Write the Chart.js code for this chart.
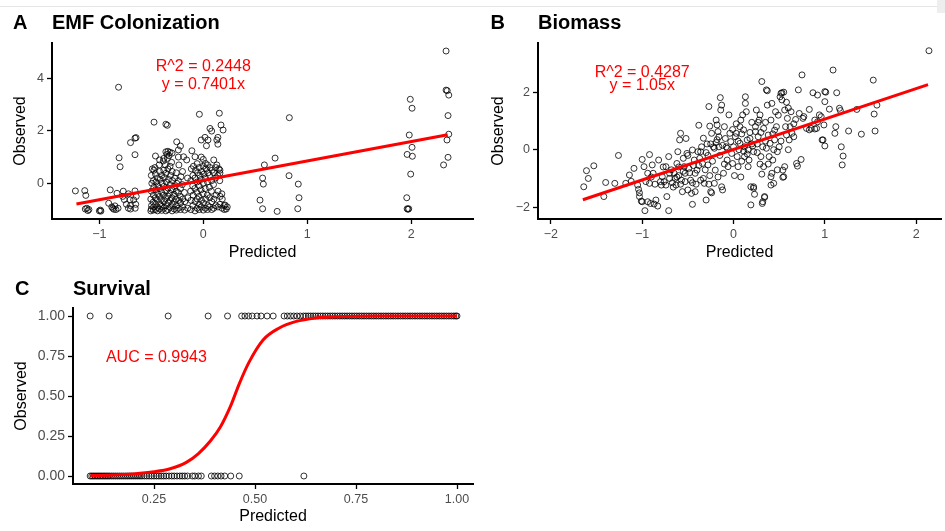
<!DOCTYPE html>
<html>
<head>
<meta charset="utf-8">
<script src="https://cdn.jsdelivr.net/npm/chart.js@4.4.0/dist/chart.umd.min.js"></script>
<style>
  body { margin: 0; background: #fff; }
  #page { position: relative; width: 945px; height: 531px; overflow: hidden; background: #fff; }
  #topLine { position: absolute; left: 0; top: 6px; width: 945px; height: 1px; background: #e6e6e6; }
  #corner { position: absolute; left: 937px; top: 0; width: 8px; height: 13px; background: #eeeeee; }
  canvas { position: absolute; }
  #chartA { left: 0; top: 0; }
  #chartB { left: 470px; top: 0; }
  #chartC { left: 0; top: 268px; }
</style>
</head>
<body>
<div id="page">
  <div id="topLine"></div>
  <div id="corner"></div>
  <canvas id="chartA" width="480" height="268"></canvas>
  <canvas id="chartB" width="475" height="268"></canvas>
  <canvas id="chartC" width="480" height="263"></canvas>
</div>
<script>
// ---- data ----

// A: EMF colonization, [predicted, observed]
const emfPoints = [
  [-1.23,-0.29],[-1.14,-0.28],[-1.13,-0.46],[-1.12,-0.95],[-1.11,-1.04],[-1.135,-0.98],[-1.10,-1.0],
  [-1.0,-1.05],[-0.985,-1.06],[-0.99,-1.02],
  [-0.895,-0.25],[-0.91,-0.76],[-0.87,-0.95],[-0.85,-0.86],[-0.82,-0.95],[-0.83,-0.38],[-0.86,-0.99],[-0.84,-1.0],[-0.88,-0.9],
  [-0.80,0.63],[-0.81,0.97],[-0.815,3.66],
  [-0.77,-0.30],[-0.76,-0.62],[-0.775,-0.5],[-0.72,-0.95],[-0.705,-0.63],[-0.74,-0.8],
  [-0.70,1.55],[-0.657,1.72],[-0.647,1.74],[-0.657,1.09],
  [-0.657,-0.29],[-0.67,-0.63],[-0.655,-0.95],[-0.645,-0.5],[-0.65,-0.8],[-0.70,-0.85],[-0.70,-0.98],[-0.72,-0.4],
  [-0.474,2.33],[-0.36,2.25],[-0.346,2.21],[-0.038,2.63],[0.154,2.67],[0.17,2.22],[0.19,2.03],[0.064,2.09],[0.08,1.99],
  [-0.02,1.65],[0.016,1.75],[0.13,1.65],[0.14,1.75],[0.14,1.49],[0.045,1.65],[0.03,1.43],[-0.256,1.58],[-0.22,1.42],
  [-0.46,1.04],[-0.42,0.89],[-0.36,1.2],[-0.34,1.22],[-0.32,1.18],[-0.35,1.1],[-0.33,1.05],[-0.38,0.95],[-0.30,1.15],
  [-0.24,1.27],[-0.19,1.01],[-0.16,0.89],[-0.11,1.24],[-0.08,1.01],[0.0,0.91],[0.02,0.76],[0.1,0.89],[0.13,0.7],[0.15,0.55],[0.16,0.39],
  [-0.505,-1.05],[-0.50,-0.98],[-0.498,-0.85],[-0.505,-0.6],[-0.50,-0.3],[-0.495,0.0],[-0.50,0.3],[-0.49,0.55],
  [-0.48,-1.02],[-0.478,-0.9],[-0.482,-0.72],[-0.48,-0.45],[-0.476,-0.15],[-0.48,0.1],[-0.475,0.5],
  [-0.46,-1.0],[-0.458,-0.8],[-0.462,-0.55],[-0.46,-0.25],[-0.455,0.05],[-0.46,0.35],[-0.465,0.6],
  [-0.44,-1.05],[-0.438,-0.92],[-0.442,-0.65],[-0.44,-0.4],[-0.436,-0.1],[-0.44,0.2],
  [-0.42,-0.98],[-0.418,-0.78],[-0.422,-0.5],[-0.42,-0.2],[-0.415,0.15],[-0.42,0.45],[-0.425,0.7],
  [-0.40,-1.03],[-0.398,-0.88],[-0.402,-0.62],[-0.40,-0.35],[-0.396,0.0],[-0.40,0.3],
  [-0.38,-0.95],[-0.378,-0.7],[-0.382,-0.45],[-0.38,-0.12],[-0.375,0.22],[-0.38,0.5],[-0.385,0.85],
  [-0.36,-1.05],[-0.358,-0.85],[-0.362,-0.58],[-0.36,-0.3],[-0.356,0.05],[-0.36,0.38],[-0.365,0.7],
  [-0.34,-1.0],[-0.338,-0.75],[-0.342,-0.48],[-0.34,-0.18],[-0.335,0.15],[-0.34,0.55],[-0.345,0.95],
  [-0.32,-0.92],[-0.318,-0.65],[-0.322,-0.38],[-0.32,-0.05],[-0.315,0.3],[-0.32,0.65],
  [-0.30,-1.05],[-0.298,-0.8],[-0.302,-0.55],[-0.30,-0.25],[-0.296,0.1],[-0.30,0.45],[-0.305,0.8],
  [-0.28,-0.98],[-0.278,-0.7],[-0.282,-0.42],[-0.28,-0.12],[-0.275,0.2],
  [-0.26,-1.02],[-0.258,-0.85],[-0.262,-0.6],[-0.26,-0.3],[-0.256,0.0],[-0.26,0.4],
  [-0.24,-0.95],[-0.238,-0.65],[-0.242,-0.35],[-0.24,0.1],[-0.235,0.7],[-0.24,1.0],
  [-0.22,-1.0],[-0.218,-0.75],[-0.222,-0.5],[-0.22,-0.2],[-0.215,0.25],
  [-0.20,-0.9],[-0.198,-0.6],[-0.202,-0.05],[-0.20,0.45],
  [-0.18,-1.02],[-0.178,-0.7],[-0.182,-0.35],[-0.15,-0.95],[-0.148,-0.55],[-0.152,0.2],
  [-0.12,-1.0],[-0.118,-0.65],[-0.122,-0.3],[-0.12,0.1],[-0.115,0.55],
  [-0.10,-0.85],[-0.098,-0.45],[-0.102,-0.1],[-0.10,0.3],[-0.095,0.65],
  [-0.08,-1.05],[-0.078,-0.7],[-0.082,-0.2],[-0.08,0.2],[-0.075,0.5],
  [-0.06,-0.95],[-0.058,-0.6],[-0.062,-0.35],[-0.06,0.05],[-0.055,0.4],[-0.06,0.75],
  [-0.04,-1.0],[-0.038,-0.8],[-0.042,-0.5],[-0.04,-0.1],[-0.035,0.3],[-0.04,0.6],
  [-0.02,-0.9],[-0.018,-0.65],[-0.022,-0.25],[-0.02,0.15],[-0.015,0.45],[-0.02,1.0],
  [0.0,-1.02],[0.002,-0.75],[-0.002,-0.4],[0.0,0.0],[0.005,0.35],[0.0,0.65],
  [0.02,-0.95],[0.022,-0.6],[0.018,-0.2],[0.02,0.2],[0.025,0.55],
  [0.04,-1.0],[0.042,-0.85],[0.038,-0.45],[0.04,0.05],[0.045,0.4],[0.04,0.7],
  [0.06,-0.9],[0.062,-0.55],[0.058,-0.15],[0.06,0.3],[0.065,0.6],
  [0.08,-1.0],[0.082,-0.7],[0.078,-0.3],[0.08,0.1],[0.085,0.5],
  [0.10,-0.95],[0.102,-0.6],[0.098,-0.05],[0.10,0.4],
  [0.12,-0.85],[0.122,-0.45],[0.118,0.2],[0.12,0.6],
  [0.14,-0.9],[0.142,-0.3],[0.138,0.3],[0.16,-0.8],[0.162,-0.5],[0.158,0.1],[0.16,0.5],
  [0.18,-0.95],[0.182,-0.6],[0.178,-0.4],[0.20,-0.85],[0.202,-1.0],[0.22,-0.98],[0.21,-0.83],[0.23,-0.9],
  [0.587,0.70],[0.69,0.96],[0.57,0.20],[0.577,-0.03],[0.545,-0.64],[0.57,-0.97],[0.71,-1.07],
  [0.827,2.50],[0.824,0.29],[0.913,-0.03],[0.92,-0.55],[0.908,-0.97],
  [1.99,3.20],[2.007,2.86],[1.98,1.84],[2.007,1.37],[1.96,1.10],[2.01,1.03],[1.994,0.35],
  [1.956,-0.55],[1.96,-0.97],[1.975,-0.97],[1.968,-0.99],
  [2.334,5.04],[2.334,3.55],[2.345,3.53],[2.36,3.36],[2.353,2.58],[2.36,1.87],[2.343,1.65],[2.353,0.99],[2.31,0.70]
];
const emfFit = [[-1.22,-0.79],[2.35,1.85]];
const emfXTicks = [-1, 0, 1, 2];
const emfYTicks = [0, 2, 4];

// B: biomass, [predicted, observed]
const bioPoints = [
  [-1.64,-1.29],[-1.61,-0.73],[-1.59,-1.0],[-1.53,-0.56],[-1.42,-1.63],[-1.40,-1.14],
  [-1.30,-1.17],[-1.26,-0.20],[-1.18,-1.17],[-1.14,-0.88],[-1.12,-1.1],
  [-1.09,-0.65],[-1.05,-1.23],[-1.04,-1.38],[-1.03,-1.5],[-1.03,-1.63],[-1.01,-1.79],[-1.0,-1.81],
  [-1.0,-0.34],[-0.98,-0.59],[-0.96,-1.11],[-0.94,-0.82],[-0.97,-2.12],[-0.94,-1.81],[-0.92,-1.17],[-0.92,-0.17],[-0.91,-1.87],
  [-0.89,-0.53],[-0.88,-0.82],[-0.87,-1.89],[-0.85,-1.75],[-0.83,-1.96],[-0.82,-0.36],[-0.80,-1.11],[-0.79,-1.23],
  [-0.78,-0.94],[-0.76,-1.11],[-0.74,-1.23],[-0.73,-1.63],[-0.71,-2.12],[-0.71,-0.24],[-0.70,-0.82],[-0.74,-0.59],
  [-0.67,-1.15],[-0.65,-0.82],[-0.63,-1.23],[-0.62,-0.48],[-0.61,-0.07],[-0.59,0.34],[-0.58,0.57],[-0.57,-1.06],
  [-0.56,-1.46],[-0.54,-0.59],[-0.53,-0.82],[-0.53,-1.11],[-0.52,0.39],[-0.51,-0.13],[-0.5,-1.4],[-0.49,-0.65],
  [-0.68,-0.7],[-0.64,-1.0],[-0.6,-0.9],[-0.58,-1.2],[-0.55,-0.3],[-0.6,-0.6],[-0.66,-1.3],[-0.7,-1.0],
  [-0.47,-1.06],[-0.46,-1.52],[-0.45,-1.9],[-0.45,-0.01],[-0.43,-0.36],[-0.42,-0.82],[-0.42,-1.46],[-0.40,-0.71],
  [-0.39,-0.07],[-0.38,0.85],[-0.36,-0.07],[-0.36,-1.06],[-0.34,-0.48],[-0.33,-1.0],[-0.32,-1.17],[-0.30,-1.75],
  [-0.29,0.2],[-0.28,-0.53],[-0.27,1.50],[-0.26,0.82],[-0.25,-1.46],[-0.25,0.2],[-0.24,-1.5],
  [-0.48,-0.8],[-0.44,-0.55],[-0.41,-1.2],[-0.37,-0.3],[-0.35,0.1],[-0.31,-0.7],[-0.28,-0.2],[-0.33,0.4],
  [-0.24,0.57],[-0.22,0.10],[-0.21,-1.17],[-0.20,-0.71],[-0.19,1.03],[-0.18,0.86],[-0.17,0.63],[-0.16,0.10],
  [-0.16,0.45],[-0.145,1.81],[-0.14,1.38],[-0.13,1.55],[-0.13,-1.29],[-0.12,-1.4],[-0.11,-0.82],[-0.10,0.8],
  [-0.09,0.39],[-0.08,0.1],[-0.07,-0.36],[-0.06,-0.59],[-0.05,1.21],[-0.04,0.57],
  [-0.23,-0.4],[-0.19,0.25],[-0.15,-0.2],[-0.12,0.15],[-0.21,0.05],[-0.1,-0.5],[-0.17,-0.95],[-0.26,-0.9],
  [-0.03,0.28],[-0.02,-0.13],[-0.01,-0.48],[0.0,0.1],[0.02,0.45],[0.03,0.57],[0.04,-0.24],[0.05,-0.59],
  [0.07,0.22],[0.07,0.80],[0.08,1.03],[0.10,1.21],[0.11,0.69],[0.12,-0.24],[0.13,1.84],[0.13,1.61],
  [0.14,1.32],[0.15,0.34],[0.16,-0.01],[0.16,-0.59],[0.17,-0.36],[0.18,0.39],[0.19,-1.29],[0.19,-1.92],
  [0.21,0.13],[0.22,-0.07],[0.22,-1.29],[0.23,-1.55],[0.24,0.80],[0.24,0.63],
  [0.01,-0.9],[0.06,0.0],[0.09,0.55],[0.12,0.1],[0.18,0.6],[0.2,0.2],[0.03,0.9],[-0.01,0.7],[0.15,-0.15],[0.09,-0.4],
  [0.25,1.38],[0.27,0.45],[0.28,1.03],[0.29,1.21],[0.30,-0.24],[0.31,2.37],[0.32,-1.81],[0.33,-0.59],
  [0.33,0.74],[0.34,-1.63],[0.36,0.05],[0.36,2.08],[0.37,1.55],[0.38,0.51],[0.39,-0.24],[0.40,0.22],
  [0.41,1.03],[0.42,1.61],[0.42,-0.82],[0.43,-0.36],[0.44,-1.17],[0.45,0.68],[0.45,0.34],[0.46,1.32],
  [0.47,0.80],[0.48,-0.07],[0.50,0.10],[0.41,-1.23],[0.41,-0.94],[0.34,-1.66],[0.315,-1.87],[0.22,-1.34],
  [0.26,0.2],[0.3,0.6],[0.35,0.3],[0.29,-0.5],[0.38,-0.5],[0.44,0.0],[0.27,0.95],[0.32,0.1],
  [0.51,1.84],[0.52,1.96],[0.53,1.73],[0.53,1.98],[0.54,-0.71],[0.55,-0.94],[0.56,1.38],[0.57,0.80],
  [0.58,0.51],[0.59,1.09],[0.61,0.34],[0.62,0.80],[0.63,1.32],[0.64,0.57],[0.66,0.45],[0.69,-0.48],
  [0.71,2.08],[0.72,1.26],[0.74,-0.34],[0.75,2.6],[0.77,1.15],[0.56,-0.59],[0.70,-0.57],[0.54,-0.96],
  [0.55,2.0],[0.58,1.65],[0.37,2.05],[0.52,0.3],[0.6,0.0],[0.66,0.9],
  [0.80,0.74],[0.83,1.4],[0.85,0.74],[0.87,1.98],[0.89,1.03],[0.91,0.74],[0.92,1.9],[0.94,1.21],
  [0.97,0.34],[0.99,0.86],[1.0,1.67],[1.0,2.02],[1.0,0.13],[0.98,0.34],[0.83,0.69],[0.89,0.72],
  [0.92,0.97],[0.96,1.15],[0.76,1.09],[1.01,2.0],[1.05,1.41],
  [1.09,2.77],[1.11,0.57],[1.12,0.8],[1.13,1.98],[1.16,1.44],[1.18,0.10],[1.20,-0.22],[1.19,-0.53],
  [1.26,0.65],[1.35,1.4],[1.40,0.54],[1.53,2.42],[1.54,1.24],[1.55,0.65],[1.57,1.55],[1.17,1.36],
  [-0.86,-1.2],[-0.9,-0.95],[-0.77,-0.6],[-0.62,-0.95],[-0.55,-0.75],[-0.5,-0.2],[-0.45,-1.15],[-0.38,-0.55],
  [-0.3,-0.1],[-0.27,-1.2],[-0.18,0.35],[-0.07,0.05],[0.05,0.3],[0.11,-0.05],[0.2,0.95],[0.26,-0.1],
  [0.35,0.95],[0.43,0.55],[0.49,1.2],[0.6,1.45],[0.68,1.05],[0.48,-0.7],[0.31,-0.85],[0.08,-0.95],
  [2.14,3.44]
];
const bioFit = [[-1.65,-1.74],[2.13,2.26]];
const bioXTicks = [-2, -1, 0, 1, 2];
const bioYTicks = [-2, 0, 2];

// C: survival, predicted probability for dead (0) and alive (1)
const deadPredicted = [
  0.092,0.096,0.10,0.104,0.108,0.112,0.116,0.12,0.124,0.128,0.132,0.136,0.14,0.145,0.15,0.155,0.16,
  0.165,0.17,0.175,0.18,0.185,0.19,0.195,0.20,0.205,0.21,0.215,0.22,0.226,0.232,0.238,0.244,0.25,
  0.256,0.262,0.268,0.274,0.28,0.287,0.294,0.30,0.307,0.314,0.32,0.326,0.333,0.345,0.351,0.36,0.367,
  0.392,0.40,0.408,0.416,0.425,0.44,0.461,0.621
];
const alivePredicted = [
  0.092,0.139,0.285,0.384,0.432,0.467,0.475,0.484,0.493,0.505,0.515,0.53,0.545,0.572,0.58,0.588,
  0.596,0.604,0.612,0.62,0.626,0.632,0.638,0.644,0.65,0.656,0.662,0.668,0.674,0.68,0.686,0.692,
  0.698,0.704,0.71,0.716,0.722,0.728,0.734,0.74,0.746,0.752,0.758,0.764,0.77,0.776,0.782,0.788,
  0.794,0.80,0.806,0.812,0.818,0.824,0.83,0.836,0.842,0.848,0.854,0.86,0.866,0.872,0.878,0.884,
  0.89,0.896,0.902,0.908,0.914,0.92,0.926,0.932,0.938,0.944,0.95,0.956,0.962,0.968,0.974,0.98,
  0.986,0.992,0.997,1.0
];
const survFit = [
  [0.093,0.003],[0.15,0.006],[0.2,0.013],[0.25,0.026],[0.29,0.045],[0.33,0.085],[0.36,0.14],
  [0.39,0.22],[0.415,0.31],[0.44,0.44],[0.46,0.57],[0.485,0.71],[0.52,0.85],[0.56,0.925],
  [0.6,0.965],[0.65,0.988],[0.72,0.997],[0.8,1.0],[1.0,1.0]
];
const survXTicks = [0.25, 0.5, 0.75, 1.0];
const survYTicks = [0, 0.25, 0.5, 0.75, 1.0];

// ---- drawing ----
Chart.defaults.font.family = "'Liberation Sans', Arial, sans-serif";

const toXY = (pairs) => pairs.map((p) => ({ x: p[0], y: p[1] }));
const minus = (v) => String(v).replace("-", "\u2212");

// draws the panel letter, the bold title and the red notes
const panelText = {
    id: "panelText",
    afterDraw(chart, args, opts) {
        const ctx = chart.ctx;
        const xs = chart.scales.x;
        const ys = chart.scales.y;
        ctx.save();
        ctx.fillStyle = "#000";
        ctx.textAlign = "left";
        ctx.textBaseline = "alphabetic";
        ctx.font = "bold 20px 'Liberation Sans', Arial, sans-serif";
        ctx.fillText(opts.letter, opts.letterX, opts.titleY);
        ctx.fillText(opts.title, chart.chartArea.left, opts.titleY);
        ctx.fillStyle = "#ff0000";
        ctx.textAlign = "center";
        ctx.font = "16px 'Liberation Sans', Arial, sans-serif";
        opts.notes.forEach((n) => {
            ctx.fillText(n.text, xs.getPixelForValue(n.x), ys.getPixelForValue(n.y));
        });
        ctx.restore();
    },
};

function axis(min, max, ticks, fmt, size, title, titlePad, tickSize) {
    return {
        type: "linear",
        min: min,
        max: max,
        afterBuildTicks: (s) => { s.ticks = ticks.map((v) => ({ value: v })); },
        afterFit: (s) => {
            if (s.isHorizontal()) s.height = size; else s.width = size;
        },
        ticks: { font: { size: tickSize || 12.5 }, color: "#4d4d4d", padding: 3, callback: fmt },
        grid: { drawOnChartArea: false, tickLength: 5, tickColor: "#000", tickWidth: 1.3 },
        border: { color: "#000", width: 2 },
        title: { display: true, text: title, color: "#000", font: { size: 16 }, padding: titlePad },
    };
}

function scatterSet(points) {
    return {
        type: "scatter",
        data: points,
        pointRadius: 3,
        pointHoverRadius: 3,
        borderWidth: 1,
        borderColor: "rgba(0,0,0,0.8)",
        backgroundColor: "rgba(0,0,0,0)",
        order: 2,
    };
}

function lineSet(points, smooth) {
    return {
        type: "line",
        data: points,
        borderColor: "#ff0000",
        borderWidth: 3,
        pointRadius: 0,
        fill: false,
        cubicInterpolationMode: smooth ? "monotone" : "default",
        order: 1,
    };
}

function makePanel(id, p) {
    new Chart(document.getElementById(id), {
        type: "scatter",
        data: { datasets: p.datasets },
        options: {
            responsive: false,
            animation: false,
            devicePixelRatio: 1,
            layout: { padding: { top: p.top, right: p.right, left: 0, bottom: 0 } },
            plugins: {
                legend: { display: false },
                tooltip: { enabled: false },
                panelText: p.text,
            },
            scales: { x: p.x, y: p.y },
        },
        plugins: [panelText],
    });
}

makePanel("chartA", {
    top: 43, right: 7,
    datasets: [scatterSet(toXY(emfPoints)), lineSet(toXY(emfFit), false)],
    x: axis(-1.455, 2.593, emfXTicks, minus, 49, "Predicted", { top: 0, bottom: 6 }),
    y: axis(-1.36, 5.345, emfYTicks, minus, 52, "Observed", { top: 11, bottom: 0 }),
    text: {
        letter: "A", letterX: 13, titleY: 28.5, title: "EMF Colonization",
        notes: [{ text: "R^2 = 0.2448", x: 0, y: 4.29 }, { text: "y = 0.7401x", x: 0, y: 3.58 }],
    },
});

makePanel("chartB", {
    top: 43, right: 1,
    datasets: [scatterSet(toXY(bioPoints)), lineSet(toXY(bioFit), false)],
    x: axis(-2.141, 2.272, bioXTicks, minus, 49, "Predicted", { top: 0, bottom: 6 }),
    y: axis(-2.41, 3.71, bioYTicks, minus, 68, "Observed", { top: 18.5, bottom: 0 }),
    text: {
        letter: "B", letterX: 20.5, titleY: 28.5, title: "Biomass",
        notes: [{ text: "R^2 = 0.4287", x: -1.0, y: 2.54 }, { text: "y = 1.05x", x: -1.0, y: 2.09 }],
    },
});

makePanel("chartC", {
    top: 40, right: 7,
    datasets: [
        scatterSet(deadPredicted.map((v) => ({ x: v, y: 0 }))),
        scatterSet(alivePredicted.map((v) => ({ x: v, y: 1 }))),
        lineSet(toXY(survFit), true),
    ],
    x: axis(0.0495, 1.0396, survXTicks, (v) => v.toFixed(2), 47, "Predicted", { top: 0, bottom: 4.5 }),
    y: axis(-0.05, 1.05, survYTicks, (v) => v.toFixed(2), 73, "Observed", { top: 12, bottom: 0 }, 14),
    text: {
        letter: "C", letterX: 15, titleY: 27, title: "Survival",
        notes: [{ text: "AUC = 0.9943", x: 0.256, y: 0.714 }],
    },
});
</script>
</body>
</html>
